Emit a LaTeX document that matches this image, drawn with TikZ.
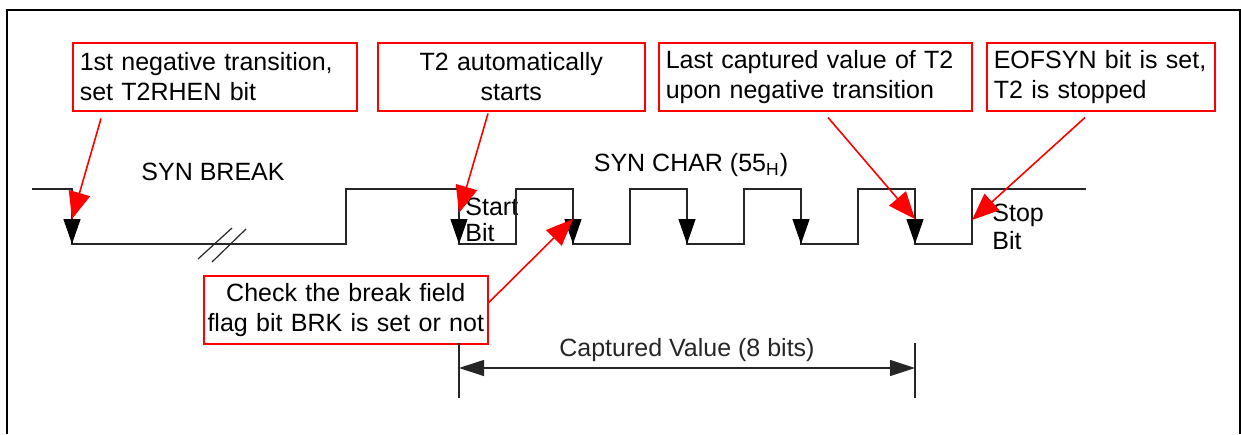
\documentclass[tikz,border=0pt]{standalone}
\usepackage{fontspec}
\setmainfont{Liberation Sans}
\usepackage{tikz}
\usetikzlibrary{arrows.meta,positioning}
\tikzset{
  %% Callout boxes (red frame)
  tmNote/.style={draw=red, line width=0.75pt, anchor=north west,
    minimum height=34pt, inner xsep=3.5pt, inner ysep=0pt, align=left},
  tmNoteC/.style={tmNote, inner xsep=1pt, align=center},
  %% Waveform
  tmSig/.style={draw=black!85, line width=0.6pt},
  tmEdge/.style={-{Triangle[length=12.5pt, width=8.5pt]}, black, line width=0.6pt},
  %% Pointers and dimension line
  tmPtr/.style={-{Triangle[length=13.5pt, width=11pt]}, red, line width=0.8pt},
  tmDim/.style={{Triangle[length=12.5pt, width=8pt]}-{Triangle[length=12.5pt, width=8pt]},
    black!85, line width=0.6pt},
}

\begin{document}
\begin{tikzpicture}[x=0.5pt, y=-0.5pt, font=\fontsize{12.5}{15}\selectfont]
\useasboundingbox (0,0) rectangle (1241,434);

%% Frame
\draw[line width=1pt] (7,434) -- (7,10) -- (1240,10) -- (1240,434);

%% Callout boxes
\node[tmNote,  text width=135pt]   (nFirst) at (72,42)   {1st negative transition,\\set T2RHEN bit};
\node[tmNoteC, text width=131.5pt] (nStart) at (377,42)  {T2 automatically\\starts};
\node[tmNote,  text width=149.5pt] (nLast)  at (658,42)  {Last captured value of T2\\upon negative transition};
\node[tmNote,  text width=107pt]   (nEof)   at (986,42)  {EOFSYN bit is set,\\T2 is stopped};
\node[tmNoteC, text width=140pt]   (nBrk)   at (203,275) {Check the break field\\flag bit BRK is set or not};

%% Signal labels
\node (lBreak) at (213,172) {SYN BREAK};
\node (lChar)  at (691,165) {SYN CHAR (55\textsubscript{H})};
\node[align=left, anchor=west, inner sep=0pt] (lStart) at (465,220) {Start\\[-2pt]Bit};
\node[align=left, anchor=west, inner sep=0pt] (lStop)  at (992,227) {Stop\\[-1pt]Bit};

%% Waveform
\draw[tmSig] (32,189) -- (72,189) -- (72,244) -- (346,244) -- (346,189) -- (459,189) -- (459,244)
  -- (516,244) -- (516,189) -- (573,189) -- (573,244) -- (630,244) -- (630,189) -- (687,189) -- (687,244)
  -- (744,244) -- (744,189) -- (801,189) -- (801,244) -- (858,244) -- (858,189) -- (915,189) -- (915,244)
  -- (972,244) -- (972,189) -- (1086,189);

%% Break marks
\draw[tmSig] (198,259) -- (232,228);
\draw[tmSig] (212,262) -- (246,229);

%% Falling edges
\foreach \x/\n in {72/e0, 459/e1, 573/e2, 687/e3, 801/e4, 915/e5} {
  \coordinate (\n) at (\x,219);
  \draw[tmEdge] (\n) -- (\x,244);
}
\coordinate (r8) at (972,220);

%% Pointers
\draw[tmPtr] ([xshift=14.5pt, yshift=-3.5pt]nFirst.south west) -- (e0);
\draw[tmPtr] ([xshift=55.5pt, yshift=-1pt]nStart.south west) -- ([yshift=3pt]e1);
\draw[tmPtr] ([yshift=3.5pt]nBrk.east) -- (e2);
\draw[tmPtr] ([xshift=85pt, yshift=-3pt]nLast.south west) -- (e5);
\draw[tmPtr] ([xshift=49.5pt, yshift=-3pt]nEof.south west) -- (r8);

%% Captured value
\coordinate (cL) at (459,368);
\coordinate (cR) at (915,368);
\draw[tmSig] (459,343) -- (459,398);
\draw[tmSig] (915,343) -- (915,398);
\draw[tmDim] (cL) -- node[above, inner sep=3pt] (lCap) {Captured Value (8 bits)} (cR);

\end{tikzpicture}
\end{document}
